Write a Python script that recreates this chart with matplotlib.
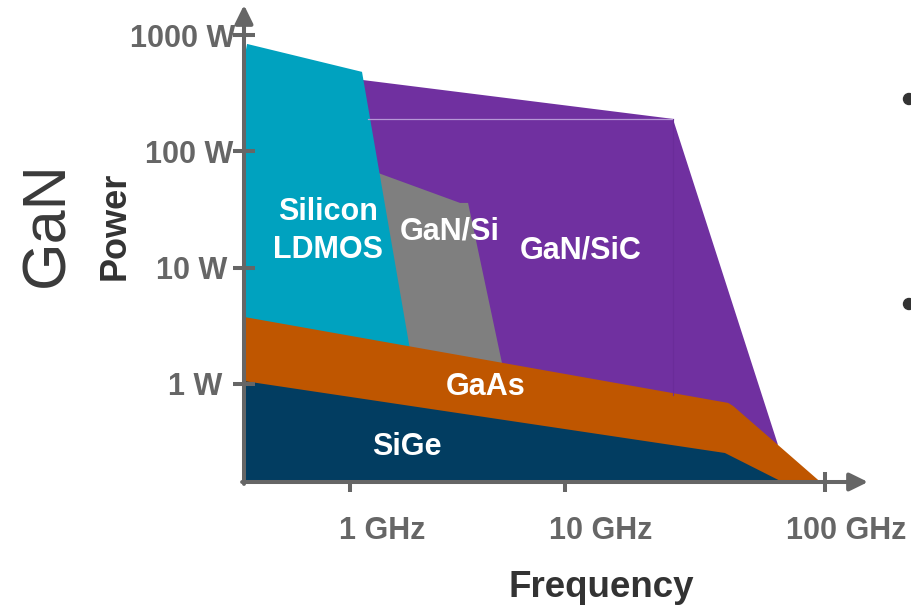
import matplotlib
matplotlib.use("Agg")
import matplotlib.pyplot as plt
import matplotlib.patches as mpatches
import matplotlib.transforms as mtransforms
import numpy as np

plt.rcParams['font.family'] = 'Liberation Sans'

# ---------------- technology areas (frequency in GHz, power in W) ----------------
P_FLOOR = 0.14

sic_f = [1.137, 26.0, 65.9, 1.30]
sic_p = [411, 190, 0.30, 0.30]

gansi_f = [1.349, 3.25, 3.54, 5.29, 1.60]
gansi_p = [65.2, 36.0, 36.0, 1.08, 1.08]

ldmos_f = [0.321, 0.332, 1.137, 1.95, 0.321]
ldmos_p = [600, 838, 482, 1.5, 1.5]

gaas_f = [0.321, 42.4, 44.3, 65.9, 97.3, 0.321]
gaas_p = [3.77, 0.687, 0.647, 0.299, P_FLOOR, P_FLOOR]

sige_f = [0.321, 41.2, 70.1, 0.321]
sige_p = [1.06, 0.255, P_FLOOR, P_FLOOR]

# faint seams inside the GaN/SiC area
seam_h_f = [1.213, 26.0]
seam_h_p = [190, 190]
seam_v_f = [26.0, 26.0]
seam_v_p = [190, 0.80]

# labels inside the areas: (text, frequency, power at baseline of last line)
area_names = ["Silicon\nLDMOS", "GaN/Si", "GaN/SiC", "GaAs", "SiGe"]
area_f = [0.79, 2.92, 11.5, 4.29, 1.84]
area_p = [12.1, 17.3, 12.1, 0.804, 0.245]

y_ticks = [1, 10, 100, 1000]
y_labels = ["1 W", "10 W", "100 W", "1000 W"]
x_ticks = [1, 10, 100]
x_labels = ["1 GHz", "10 GHz", "100 GHz"]

c_ldmos = "#00A2BF"
c_sic = "#7030A0"
c_gansi = "#7F7F7F"
c_gaas = "#BF5600"
c_sige = "#023D61"
c_axis = "#666666"
c_text = "#333333"

# the frequency axis is log, but the last decade is drawn a bit wider
K = 260 / 215


def fwd(x):
    with np.errstate(divide='ignore', invalid='ignore'):
        u = np.log10(x)
    return np.where(u <= 1, u, 1 + (u - 1) * K)


def inv(t):
    t = np.asarray(t, dtype=float)
    u = np.where(t <= 1, t, 1 + (t - 1) / K)
    return 10 ** u


W, H = 911, 606
fig = plt.figure(figsize=(W / 100, H / 100), dpi=100)
ax = fig.add_axes([244 / W, 1 - 482 / H, 624 / W, 477 / H])
ax.set_yscale('log')
ax.set_xscale('function', functions=(fwd, inv))
ax.set_xlim(0.3213, 146.3)
ax.set_ylim(0.1436, 1811)

ax.fill(sic_f, sic_p, color=c_sic, lw=0)
ax.plot(seam_h_f, seam_h_p, color="#B697D6", lw=0.9)
ax.plot(seam_v_f, seam_v_p, color="#6A2C99", lw=0.8)
ax.fill(gansi_f, gansi_p, color=c_gansi, lw=0)
ax.fill(ldmos_f, ldmos_p, color=c_ldmos, lw=0)
ax.fill(gaas_f, gaas_p, color=c_gaas, lw=0)
ax.fill(sige_f, sige_p, color=c_sige, lw=0)

for name, f, p in zip(area_names, area_f, area_p):
    ax.text(f, p, name, color="white", fontsize=22, fontweight="bold",
            ha="center", va="baseline", linespacing=1.33, zorder=5)

# axes drawn as arrows
for spine in ax.spines.values():
    spine.set_visible(False)
arrow_style = dict(arrowstyle="-|>,head_length=0.55,head_width=0.27",
                   color=c_axis, lw=2.9, shrinkA=0, shrinkB=0, mutation_scale=20)
ax.annotate("", xy=(0, 1), xytext=(0, -0.004), xycoords="axes fraction",
            arrowprops=arrow_style, annotation_clip=False, zorder=6)
ax.annotate("", xy=(1, 0), xytext=(-0.003, 0), xycoords="axes fraction",
            arrowprops=arrow_style, annotation_clip=False, zorder=6)

ax.set_yticks(y_ticks)
ax.set_xticks(x_ticks)
ax.minorticks_off()
ax.tick_params(axis="y", direction="inout", length=16, width=2.9, color=c_axis,
               labelleft=False)
ax.tick_params(axis="x", direction="inout", length=13.7, width=2.9, color=c_axis,
               labelbottom=False)
ax.yaxis.set_zorder(6)
ax.xaxis.set_zorder(0.5)

# tick labels placed by hand
y_trans = mtransforms.blended_transform_factory(ax.transAxes, ax.transData)
y_dx = [-22, -17, -11, -9]
for val, lab, dx in zip(y_ticks, y_labels, y_dx):
    ax.text(0, val, lab, transform=mtransforms.offset_copy(y_trans, fig=fig, x=dx, y=0, units="dots"),
            ha="right", va="center_baseline", fontsize=22, fontweight="bold", color=c_axis)

x_trans = mtransforms.blended_transform_factory(ax.transData, ax.transAxes)
x_dx = [32, 36, 21]
for val, lab, dx in zip(x_ticks, x_labels, x_dx):
    ax.text(val, 0, lab, transform=mtransforms.offset_copy(x_trans, fig=fig, x=dx, y=-57, units="dots"),
            ha="center", va="baseline", fontsize=22, fontweight="bold", color=c_axis)

# axis titles
fig.text(125 / W, 1 - 226 / H, "Power", rotation=90, rotation_mode="anchor",
         ha="center", va="baseline", fontsize=26, fontweight="bold", color=c_text)
fig.text(601 / W, 1 - 597 / H, "Frequency", ha="center", va="baseline",
         fontsize=26.5, fontweight="bold", color=c_text)
fig.text(63 / W, 1 - 224 / H, "GaN", rotation=90, rotation_mode="anchor",
         ha="center", va="baseline", fontsize=44, color="#3A3A3A")

# bullets of the neighbouring list
for by in [99, 304]:
    fig.add_artist(mpatches.Circle((909, H - by), 5.5, color="#333333",
                                   transform=mtransforms.IdentityTransform()))

fig.savefig("out.png", dpi=100)
